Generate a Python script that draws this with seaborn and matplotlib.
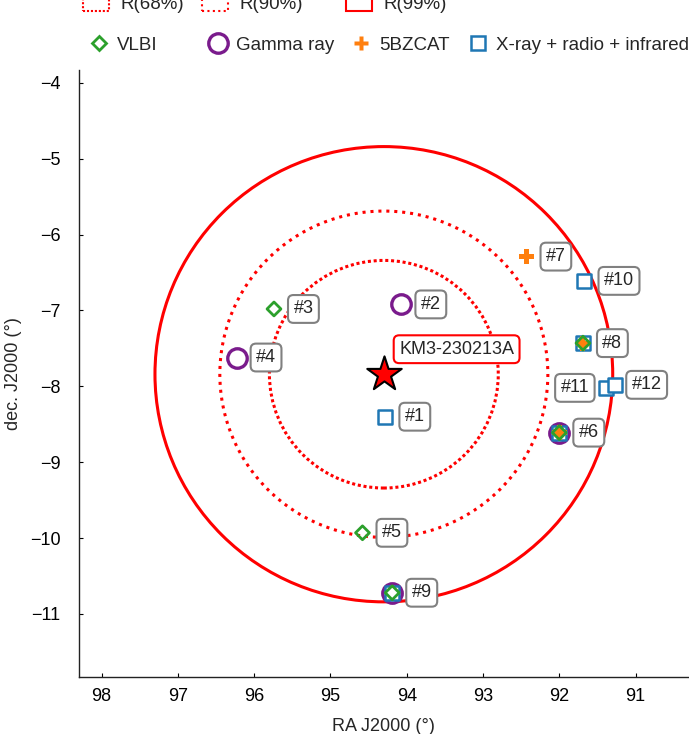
import pandas as pd
import seaborn as sns
import matplotlib.pyplot as plt
from matplotlib.patches import Circle, Patch
from matplotlib.lines import Line2D

# candidate counterparts around the neutrino event
labels = ['#1', '#2', '#3', '#4', '#5', '#6', '#7', '#8', '#9', '#10', '#11', '#12']
ra = [94.28, 94.07, 95.74, 96.23, 94.58, 92.00, 92.43, 91.69, 94.19, 91.67, 91.39, 91.27]
dec = [-8.40, -6.92, -6.98, -7.62, -9.93, -8.61, -6.29, -7.43, -10.72, -6.61, -8.02, -7.98]

vlbi = ['#3', '#5', '#6', '#8', '#9']
gamma = ['#2', '#4', '#6', '#9']
bzcat = ['#6', '#7', '#8']
xray = ['#1', '#6', '#8', '#9', '#10', '#11', '#12']

event_name = 'KM3-230213A'
event_ra = [94.30]
event_dec = [-7.84]
radius_names = ['R(68%)', 'R(90%)', 'R(99%)']
radius_deg = [1.5, 2.15, 3.0]

x_ticks = [98, 97, 96, 95, 94, 93, 92, 91]
y_ticks = [-4, -5, -6, -7, -8, -9, -10, -11]

sns.set_theme(style='ticks')
plt.rcParams['font.family'] = ['Liberation Sans', 'DejaVu Sans']

df = pd.DataFrame({'name': labels, 'ra': ra, 'dec': dec})
ev = pd.DataFrame({'ra': event_ra, 'dec': event_dec})

W, H = 689, 734
fig = plt.figure(figsize=(W / 100, H / 100), dpi=100)
ax = fig.add_axes([0.1142, 0.0777, 0.8858, 0.827])

# error circles
circle_styles = [(0, (1, 0.9)), (0, (1, 1.6)), '-']
for r, ls in zip(radius_deg, circle_styles):
    ax.add_patch(Circle((event_ra[0], event_dec[0]), r, fill=False, ec='red',
                        lw=2.2, ls=ls, zorder=2))

purple = '#7a1b8c'
blue = '#1f77b4'
green = '#2ca02c'
orange = '#ff7f0e'

# markers for each catalogue
sns.scatterplot(data=df[df['name'].isin(gamma)], x='ra', y='dec', marker='o', s=196,
                facecolor='white', edgecolor=purple, linewidth=2.4, ax=ax, zorder=3)
sns.scatterplot(data=df[df['name'].isin(xray)], x='ra', y='dec', marker='s', s=110,
                facecolor='white', edgecolor=blue, linewidth=1.8, ax=ax, zorder=4)
sns.scatterplot(data=df[df['name'].isin(bzcat)], x='ra', y='dec', marker='P', s=115,
                facecolor=orange, edgecolor='none', linewidth=0, ax=ax, zorder=5)
sns.scatterplot(data=df[df['name'].isin(vlbi)], x='ra', y='dec', marker='D', s=50,
                facecolor='none', edgecolor=green, linewidth=2.0, ax=ax, zorder=6)

sns.scatterplot(data=ev, x='ra', y='dec', marker='*', s=680, facecolor='red',
                edgecolor='black', linewidth=1.5, ax=ax, zorder=7)

# number labels
for _, row in df.iterrows():
    if row['name'] == '#11':
        off, ha = (-12, 0), 'right'
    elif row['name'] == '#12':
        off, ha = (12, 0), 'left'
    else:
        off, ha = (14, 0), 'left'
    ax.annotate(row['name'], (row['ra'], row['dec']), xytext=off, textcoords='offset points',
                ha=ha, va='center', fontsize=13, zorder=8,
                bbox=dict(boxstyle='round,pad=0.3', fc='white', ec='#808080', lw=1.5))

ax.annotate(event_name, (event_ra[0], event_dec[0]), xytext=(11, 18), textcoords='offset points',
            ha='left', va='center', fontsize=13, zorder=8,
            bbox=dict(boxstyle='round,pad=0.3', fc='white', ec='red', lw=1.5))

ax.set_xlim(98.3, 90.3)
ax.set_ylim(-11.83, -3.83)
ax.set_xticks(x_ticks)
ax.set_yticks(y_ticks)
ax.set_xlabel('RA J2000 (°)', fontsize=13, labelpad=9)
ax.set_ylabel('dec. J2000 (°)', fontsize=13, labelpad=6)
ax.tick_params(axis='both', direction='in', length=3, width=0.8, labelsize=13, colors='black')
ax.tick_params(axis='x', pad=8)
ax.tick_params(axis='y', pad=13)
sns.despine(ax=ax)
for s in ['left', 'bottom']:
    ax.spines[s].set_color('#222222')
    ax.spines[s].set_linewidth(1.0)

# legends on top, one entry at a time so the columns line up like the original
r_handles = [Patch(facecolor='white', edgecolor='red', linestyle=ls, linewidth=1.5)
             for ls in circle_styles]
m_handles = [
    Line2D([], [], marker='D', ls='none', ms=7, mfc='white', mec=green, mew=2.0),
    Line2D([], [], marker='o', ls='none', ms=14, mfc='white', mec=purple, mew=2.4),
    Line2D([], [], marker='P', ls='none', ms=10.5, mfc=orange, mec='none'),
    Line2D([], [], marker='s', ls='none', ms=10.5, mfc='white', mec=blue, mew=1.8),
]
m_labels = ['VLBI', 'Gamma ray', '5BZCAT', 'X-ray + radio + infrared']

row1_x = [83, 202, 346]
row2_x = [88, 207, 350, 467]

for h, lab, x in zip(r_handles, radius_names, row1_x):
    fig.legend([h], [lab], loc='center left', bbox_to_anchor=(x / W, 1 - 3 / H),
               frameon=False, fontsize=13.5, handlelength=1.4, handleheight=1.1,
               handletextpad=0.6, borderpad=0, borderaxespad=0)

for h, lab, x in zip(m_handles, m_labels, row2_x):
    fig.legend([h], [lab], loc='center left', bbox_to_anchor=(x / W, 1 - 45 / H),
               frameon=False, fontsize=13.5, handlelength=1.2, handletextpad=0.35,
               borderpad=0, borderaxespad=0)

fig.savefig('out.png', dpi=100)
